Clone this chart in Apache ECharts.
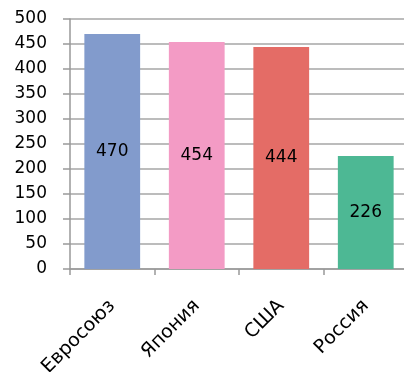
<!DOCTYPE html>
<html>
<head>
<meta charset="utf-8">
<script src="https://cdn.jsdelivr.net/npm/echarts@6/dist/echarts.min.js"></script>
<style>
  html, body { margin: 0; padding: 0; background: #fff; }
  #chart { width: 404px; height: 372px; }
</style>
</head>
<body>
<div id="chart"></div>
<script>
// Categories and values
const categories = ['Евросоюз', 'Япония', 'США', 'Россия'];
const values = [470, 454, 444, 226];
const barColors = ['#829bcc', '#f39bc5', '#e46c66', '#4db894'];

const yMin = 0, yMax = 500, yStep = 50;
const font = 'DejaVu Sans, Verdana, Tahoma, sans-serif';

const chart = echarts.init(document.getElementById('chart'), null, { renderer: 'canvas' });

chart.setOption({
  animation: false,
  backgroundColor: '#ffffff',
  grid: { left: 70, right: -4, top: 19, bottom: 103, containLabel: false, outerBoundsMode: 'none' },
  xAxis: {
    type: 'category',
    data: categories,
    boundaryGap: true,
    axisLine: { show: true, lineStyle: { color: '#999999', width: 1.5 } },
    axisTick: { show: true, length: 6, alignWithLabel: false, lineStyle: { color: '#999999', width: 1.5 } },
    axisLabel: {
      rotate: 45,
      margin: 34,
      color: '#000000',
      fontFamily: font,
      fontSize: 19
    },
    splitLine: { show: false }
  },
  yAxis: {
    type: 'value',
    min: yMin,
    max: yMax,
    interval: yStep,
    axisLine: { show: true, lineStyle: { color: '#999999', width: 1.5 } },
    axisTick: { show: true, length: 7, inside: false, lineStyle: { color: '#999999', width: 1.5 } },
    axisLabel: {
      margin: 23,
      color: '#000000',
      fontFamily: font,
      fontSize: 17
    },
    splitLine: { show: true, lineStyle: { color: '#a6a6a6', width: 1.5 } }
  },
  series: [{
    type: 'bar',
    data: values.map((v, i) => ({ value: v, itemStyle: { color: barColors[i] } })),
    barWidth: '66%',
    label: {
      show: true,
      position: 'inside',
      color: '#000000',
      fontFamily: font,
      fontSize: 17
    }
  }]
});
</script>
</body>
</html>
